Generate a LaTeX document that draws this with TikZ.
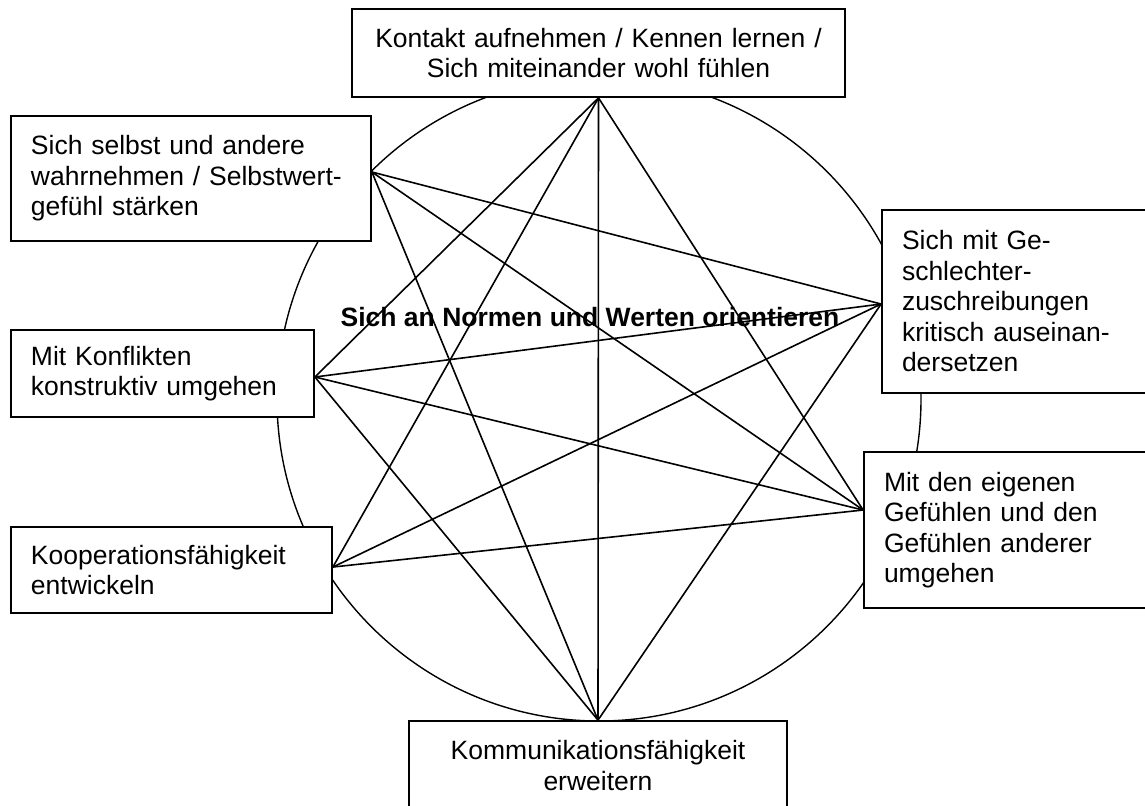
\documentclass[tikz,border=0pt]{standalone}
\usepackage{fontspec}
\setmainfont{Liberation Sans}

\begin{document}
\begin{tikzpicture}[x=0.5pt, y=-0.5pt,
        every node/.style={font=\fontsize{13.25}{15.25}\selectfont},
        topic/.style={draw, fill=white, line width=0.9pt, inner xsep=10pt, inner ysep=0pt},
        link/.style={line width=0.8pt}]
            \useasboundingbox (0,0) rectangle (1145,805);

            % the wheel behind the boxes
            \draw[line width=0.7pt] (599,399) circle (161pt);

            \node[topic, text width=226.5pt, align=center, minimum height=44pt] (kontakt) at (598.5,53) {Kontakt aufnehmen / Kennen lernen /\\ Sich miteinander wohl fühlen};
            \node[topic, text width=160pt, align=left, minimum height=62.5pt] (selbst) at (191,178.5) {Sich selbst und andere\\ wahrnehmen / Selbstwert-\\ gefühl stärken};
            \node[topic, text width=114pt, align=left, minimum height=91.5pt] (gender) at (1016,301.5) {Sich mit Ge-\\ schlechter-\\ zuschreibungen\\ kritisch auseinan-\\ dersetzen};
            \node[topic, text width=131.5pt, align=left, minimum height=43.5pt] (konflikt) at (162.5,373.5) {Mit Konflikten\\ konstruktiv umgehen};
            \node[topic, text width=123pt, align=left, minimum height=78pt] (gefuehl) at (1007,530) {Mit den eigenen\\ Gefühlen und den\\ Gefühlen anderer\\ umgehen};
            \node[topic, text width=140.5pt, align=left, minimum height=43pt] (koop) at (171.5,570) {Kooperationsfähigkeit\\ entwickeln};
            \node[topic, text width=169pt, align=center, minimum height=44.5pt] (komm) at (598,765.5) {Kommunikationsfähigkeit\\ erweitern};

            % end points on the box edges
            \coordinate (t) at (kontakt.south);
            \coordinate (s) at (selbst.east |- 0,172);
            \coordinate (g) at (gender.west |- 0,304);
            \coordinate (k) at (konflikt.east |- 0,377);
            \coordinate (e) at (gefuehl.west |- 0,510);
            \coordinate (c) at (koop.east |- 0,567);
            \coordinate (b) at (komm.north);

            \foreach \p/\q in {t/b, t/k, t/c, t/e, s/g, s/e, s/b, g/k, g/c, g/b, k/e, k/b, c/e}
                \draw[link] (\p) -- (\q);

            \node[font=\bfseries\fontsize{13.25}{15.25}\selectfont] (werte) at (590,317) {Sich an Normen und Werten orientieren};
        \end{tikzpicture}
\end{document}
